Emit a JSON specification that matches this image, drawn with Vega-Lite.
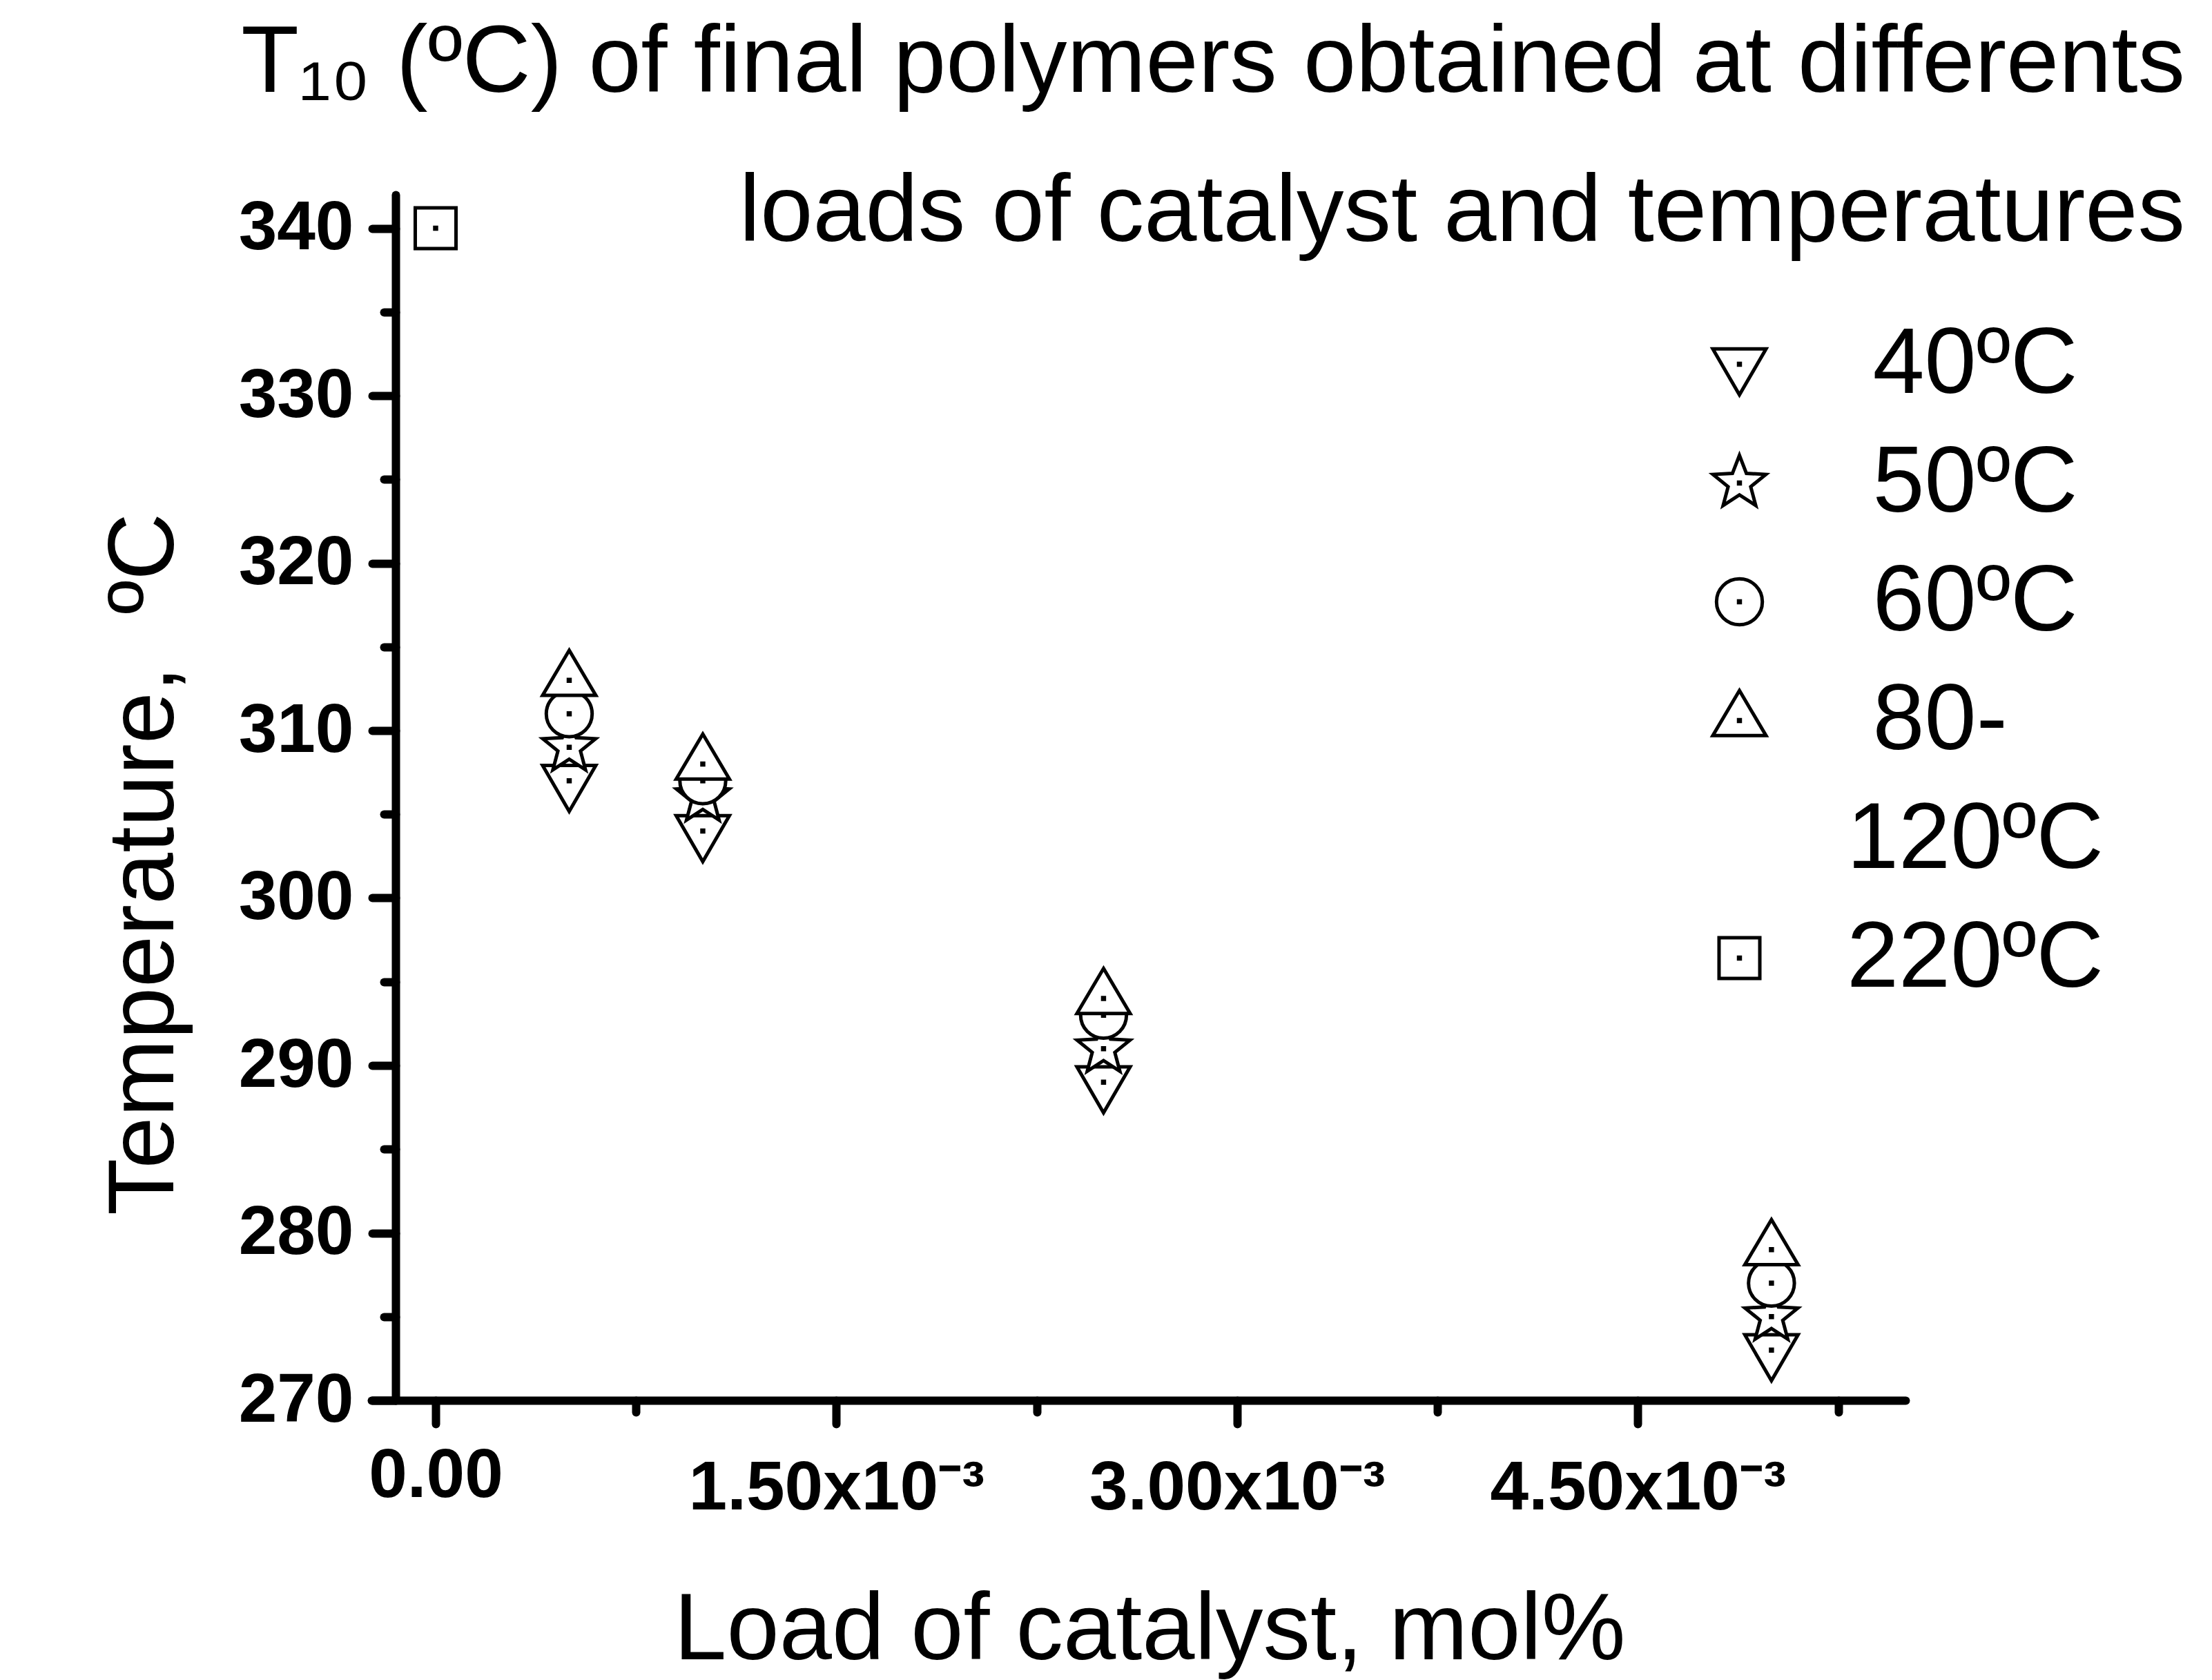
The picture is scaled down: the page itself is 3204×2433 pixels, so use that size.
{
  "$schema": "https://vega.github.io/schema/vega-lite/v6.json",
  "autosize": {"type": "none"},
  "padding": {"left": 538, "top": 282, "right": 444, "bottom": 405},
  "width": 2222,
  "height": 1746,
  "background": "white",
  "title": {
    "text": ["T₁₀ (ºC) of final polymers obtained at differents", "loads of catalyst and temperatures"],
    "anchor": "end",
    "frame": "group",
    "align": "right",
    "baseline": "alphabetic",
    "font": "Liberation Sans",
    "fontSize": 137,
    "fontWeight": "normal",
    "color": "black",
    "lineHeight": 216,
    "dx": 405,
    "dy": 105,
    "offset": -100
  },
  "data": {
    "values": [
      {"load": 0.0005, "T": 307, "series": "40ºC"},
      {"load": 0.001, "T": 304, "series": "40ºC"},
      {"load": 0.0025, "T": 289, "series": "40ºC"},
      {"load": 0.005, "T": 273, "series": "40ºC"},
      {"load": 0.0005, "T": 309, "series": "50ºC"},
      {"load": 0.001, "T": 306, "series": "50ºC"},
      {"load": 0.0025, "T": 291, "series": "50ºC"},
      {"load": 0.005, "T": 275, "series": "50ºC"},
      {"load": 0.0005, "T": 311, "series": "60ºC"},
      {"load": 0.001, "T": 307, "series": "60ºC"},
      {"load": 0.0025, "T": 293, "series": "60ºC"},
      {"load": 0.005, "T": 277, "series": "60ºC"},
      {"load": 0.0005, "T": 313, "series": "80-120ºC"},
      {"load": 0.001, "T": 308, "series": "80-120ºC"},
      {"load": 0.0025, "T": 294, "series": "80-120ºC"},
      {"load": 0.005, "T": 279, "series": "80-120ºC"},
      {"load": 0, "T": 340, "series": "220ºC"}
    ]
  },
  "mark": {"type": "point", "filled": true, "fill": "white", "stroke": "black", "strokeWidth": 5, "opacity": 1, "size": 6724},
  "encoding": {
    "x": {
      "field": "load",
      "type": "quantitative",
      "scale": {"domain": [-0.0002403, 0.0055016], "nice": false, "zero": false},
      "axis": {
        "title": "Load of catalyst, mol%",
        "titleFontSize": 137,
        "values": [0, 0.00075, 0.0015, 0.00225, 0.003, 0.00375, 0.0045, 0.00525],
        "labelExpr": "datum.value == 0 ? '0.00' : (round(datum.value / 0.00075) % 2 == 1 ? '' : format(datum.value * 1000, '.2f') + 'x10⁻³')",
        "tickSize": {"condition": {"test": "round(datum.value / 0.00075) % 2 == 0", "value": 34}, "value": 17},
        "labelPadding": {"condition": {"test": "datum.value == 0", "value": 26}, "value": 44},
        "labelFlush": false,
        "labelOverlap": false,
        "labelLimit": 2000,
        "labelBaseline": "top",
        "titleX": 1127,
        "titleY": 374,
        "titleAlign": "center",
        "titleBaseline": "alphabetic"
      }
    },
    "y": {
      "field": "T",
      "type": "quantitative",
      "scale": {"domain": [270, 342], "nice": false, "zero": false},
      "axis": {
        "title": "Temperature, \u00a0ºC",
        "titleFontSize": 135,
        "offset": -35,
        "values": [270, 275, 280, 285, 290, 295, 300, 305, 310, 315, 320, 325, 330, 335, 340],
        "labelExpr": "datum.value % 10 == 0 ? datum.label : ''",
        "tickSize": {"condition": {"test": "datum.value % 10 == 0", "value": 34}, "value": 17},
        "labelPadding": 27,
        "labelOverlap": false,
        "labelFlush": false,
        "labelLimit": 2000,
        "titleAngle": -90,
        "titleX": -323,
        "titleY": 969,
        "titleAlign": "center",
        "titleBaseline": "alphabetic"
      }
    },
    "shape": {
      "field": "series",
      "type": "nominal",
      "scale": {
        "domain": ["40ºC", "50ºC", "60ºC", "80-120ºC", "80-120ºC_line2", "220ºC"],
        "range": [
          "M-0.94,-0.54L0.94,-0.54L0,1.08ZM-0.03,-0.03L0.03,-0.03L0.03,0.03L-0.03,0.03Z",
          "M0,-0.98L0.247,-0.34L0.932,-0.303L0.399,0.13L0.576,0.793L0,0.42L-0.576,0.793L-0.399,0.13L-0.932,-0.303L-0.247,-0.34ZM-0.03,-0.03L0.03,-0.03L0.03,0.03L-0.03,0.03Z",
          "M0.81,0A0.81,0.81 0 1,1 -0.81,0A0.81,0.81 0 1,1 0.81,0ZM-0.03,-0.03L0.03,-0.03L0.03,0.03L-0.03,0.03Z",
          "M0,-1.06L0.94,0.53L-0.94,0.53ZM-0.03,-0.03L0.03,-0.03L0.03,0.03L-0.03,0.03Z",
          "M0,0Z",
          "M-0.72,-0.72L0.72,-0.72L0.72,0.72L-0.72,0.72ZM-0.03,-0.03L0.03,-0.03L0.03,0.03L-0.03,0.03Z"
        ]
      },
      "legend": {
        "title": null,
        "orient": "none",
        "legendX": 1914,
        "legendY": 178,
        "padding": 0,
        "rowPadding": 36,
        "labelOffset": 88,
        "labelFont": "Liberation Sans",
        "labelFontSize": 135,
        "labelColor": "black",
        "labelLimit": 2000,
        "symbolSize": 6724,
        "symbolStrokeWidth": 5,
        "symbolOpacity": 1,
        "labelExpr": "datum.value === '80-120ºC' ? '\u200b\u00a080-' : (datum.value === '80-120ºC_line2' ? '120ºC' : (datum.value === '220ºC' ? '220ºC' : '\u200b\u00a0' + datum.label))",
        "encode": {
          "symbols": {
            "fill": {"value": "white"},
            "stroke": {"value": "black"},
            "strokeWidth": {"value": 5},
            "opacity": {"value": 1}
          }
        }
      }
    }
  },
  "config": {
    "view": {"stroke": null},
    "axis": {
      "grid": false,
      "domainColor": "black",
      "tickColor": "black",
      "labelColor": "black",
      "titleColor": "black",
      "domainWidth": 12,
      "tickWidth": 12,
      "domainCap": "round",
      "tickCap": "round",
      "labelFont": "Liberation Sans",
      "labelFontWeight": "bold",
      "labelFontSize": 100,
      "titleFont": "Liberation Sans",
      "titleFontWeight": "normal",
      "titleFontSize": 135
    }
  }
}
